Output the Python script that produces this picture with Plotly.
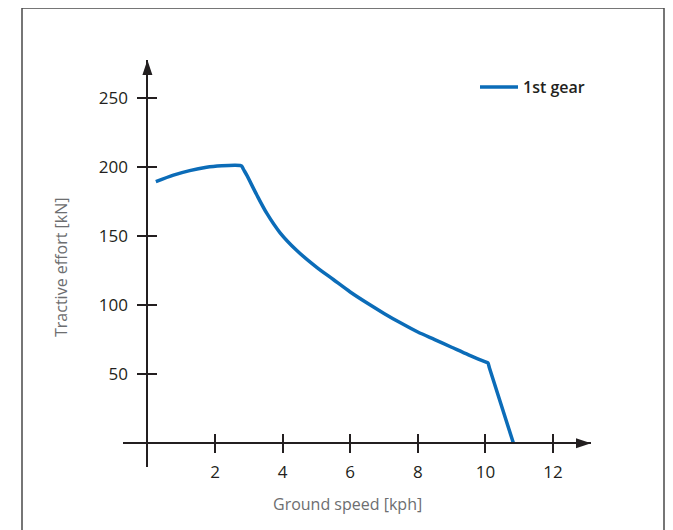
import plotly.graph_objects as go

# ---- data ----
speed = [0.25, 0.77, 1.25, 1.75, 2.2, 2.6, 2.74, 2.79, 2.84, 2.94, 3.23, 3.53, 3.92, 4.42, 5.0,
         5.5, 6.0, 6.5, 7.0, 7.5, 8.0, 8.5, 9.0, 9.5, 10.0, 10.07, 10.12, 10.83]
effort = [189.3, 194, 197.3, 199.7, 200.8, 201.2, 201.0, 200.6, 198.3, 194, 180, 166.5, 152.5, 139.5, 127.5,
          118.5, 109.5, 101.5, 94, 87, 80.5, 75, 69.5, 64, 58.9, 58.3, 54.5, 0]
x_ticks = [2, 4, 6, 8, 10, 12]
y_ticks = [50, 100, 150, 200, 250]
series_name = "1st gear"

OFF = 8  # page body margin
W, H = 673 - OFF, 530 - OFF
# reference pixel geometry (page coords)
AX_L, AX_R, AX_T, AX_B = 123, 591, 60, 467
L, R, T, B = AX_L - OFF, W - (AX_R - OFF), AX_T - OFF, H - (AX_B - OFF)
x_range = [-0.722, 13.124]
y_range = [-17.15, 277.35]

pw = W - L - R
ph = H - T - B
xpos = (0 - x_range[0]) / (x_range[1] - x_range[0])
ypos = (0 - y_range[0]) / (y_range[1] - y_range[0])
ux = (x_range[1] - x_range[0]) / pw   # data units per px
uy = (y_range[1] - y_range[0]) / ph

axis_col = "#231f20"
blue = "#0b6cb8"

fig = go.Figure()
fig.add_trace(go.Scatter(x=speed, y=effort, mode="lines", name=series_name,
                         line=dict(color=blue, width=3.5, shape="spline", smoothing=0.8)))
fig.add_trace(go.Scatter(x=[None], y=[None], xaxis="x2", yaxis="y2",
                         showlegend=False, hoverinfo="skip"))

common_font = dict(family="Open Sans, Liberation Sans, sans-serif", size=17, color="#231f20")

def px2paper_x(p):
    return (p - OFF - L) / pw
def px2paper_y(p):
    return (H - B - (p - OFF)) / ph

fig.update_layout(
    width=W, height=H,
    margin=dict(l=L, r=R, t=T, b=B, autoexpand=False),
    plot_bgcolor="white", paper_bgcolor="white",
    showlegend=True,
    legend=dict(x=px2paper_x(480 - 5), y=px2paper_y(87), xanchor="left", yanchor="middle",
                itemwidth=38,
                font=dict(family="Open Sans, sans-serif", size=16, color="#231f20", weight=600),
                bgcolor="rgba(0,0,0,0)", borderwidth=0),
    xaxis=dict(range=x_range, anchor="free", position=ypos, showgrid=False, zeroline=False,
               showline=True, linecolor=axis_col, linewidth=2,
               tickmode="array", tickvals=x_ticks, ticktext=[str(v) for v in x_ticks],
               ticks="outside", ticklen=9, tickwidth=2, tickcolor=axis_col,
               tickfont=common_font, ticklabelstandoff=4, fixedrange=True),
    yaxis=dict(range=y_range, anchor="free", position=xpos, showgrid=False, zeroline=False,
               showline=True, linecolor=axis_col, linewidth=2,
               tickmode="array", tickvals=y_ticks, ticktext=[str(v) for v in y_ticks],
               ticks="outside", ticklen=9, tickwidth=2, tickcolor=axis_col,
               tickfont=common_font, ticklabelstandoff=6, fixedrange=True),
    xaxis2=dict(range=x_range, overlaying="x", anchor="free", position=ypos, showgrid=False,
                zeroline=False, showline=False, tickmode="array", tickvals=x_ticks,
                ticks="inside", ticklen=9, tickwidth=2, tickcolor=axis_col,
                showticklabels=False, fixedrange=True),
    yaxis2=dict(range=y_range, overlaying="y", anchor="free", position=xpos, showgrid=False,
                zeroline=False, showline=False, tickmode="array", tickvals=y_ticks,
                ticks="inside", ticklen=9, tickwidth=2, tickcolor=axis_col,
                showticklabels=False, fixedrange=True),
)

# arrow heads
xa_tip = x_range[1]
fig.add_shape(type="path", xref="x", yref="y",
              path=f"M {xa_tip} 0 L {xa_tip - 15*ux} {5*uy} L {xa_tip - 15*ux} {-5*uy} Z",
              fillcolor=axis_col, line=dict(width=0))
ya_tip = y_range[1]
fig.add_shape(type="path", xref="x", yref="y",
              path=f"M 0 {ya_tip} L {5*ux} {ya_tip - 15*uy} L {-5*ux} {ya_tip - 15*uy} Z",
              fillcolor=axis_col, line=dict(width=0))

# outer frame
fig.add_shape(type="rect", xref="paper", yref="paper",
              x0=px2paper_x(22), x1=px2paper_x(664), y0=px2paper_y(560), y1=px2paper_y(8),
              line=dict(color="#4a4a4a", width=1.5), fillcolor="rgba(0,0,0,0)", layer="below")

# axis titles
title_font = dict(family="Open Sans, sans-serif", size=16, color="#6d6e70")
fig.add_annotation(text="Ground speed [kph]", xref="paper", yref="paper",
                   x=px2paper_x(347), y=px2paper_y(504), showarrow=False, font=title_font,
                   xanchor="center", yanchor="middle")
fig.add_annotation(text="Tractive effort [kN]", xref="paper", yref="paper",
                   x=px2paper_x(61), y=px2paper_y(268), showarrow=False, font=title_font,
                   textangle=-90, xanchor="center", yanchor="middle")

fig.write_html("out.html")
